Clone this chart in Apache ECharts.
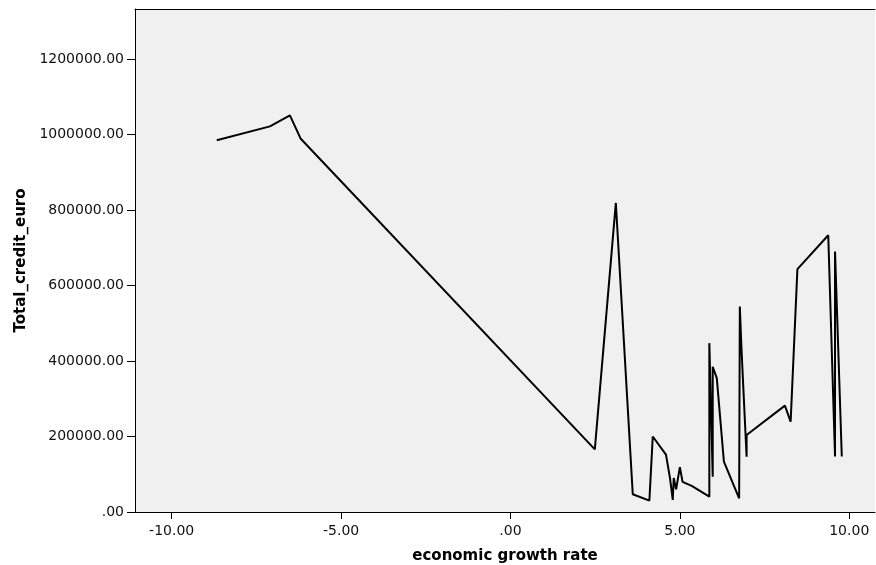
<!DOCTYPE html>
<html>
<head>
<meta charset="utf-8">
<script src="https://cdn.jsdelivr.net/npm/echarts@6/dist/echarts.min.js"></script>
<style>
html,body{margin:0;padding:0;background:#fff;}
#chart{width:876px;height:565px;}
</style>
</head>
<body>
<div id="chart"></div>
<script>
// economic growth rate (x) and Total_credit_euro (y), in drawing order
var growthRate = [-8.67, -7.10, -6.51, -6.19, 2.49, 3.11, 3.61, 4.10, 4.20, 4.59, 4.71, 4.79, 4.82, 4.89, 5.00, 5.08, 5.35, 5.87, 5.87, 5.97, 5.97, 6.09, 6.30, 6.75, 6.77, 6.82, 6.97, 6.97, 8.10, 8.27, 8.47, 9.38, 9.58, 9.58, 9.78];
var totalCredit = [985000, 1022000, 1051000, 989000, 166000, 819000, 47000, 30000, 200000, 152000, 89000, 32000, 90000, 60000, 119000, 80000, 69000, 40600, 447500, 93600, 385000, 354600, 133400, 36300, 544600, 430000, 146700, 204200, 282000, 239500, 643800, 733400, 147200, 690400, 147200];
var xTickValues = [-10, -5, 0, 5, 10];
var yTickValues = [0, 200000, 400000, 600000, 800000, 1000000, 1200000];

var xMin = -11.083, xMax = 10.76;
var yMin = 0, yMax = 1333000;

function fmt(v) {
  var s = Number(v).toFixed(2);
  if (s.indexOf('0.') === 0) s = s.slice(1);
  if (s.indexOf('-0.') === 0) s = '-' + s.slice(2);
  return s;
}

var points = growthRate.map(function (x, i) { return [x, totalCredit[i]]; });

var chart = echarts.init(document.getElementById('chart'), null, {renderer: 'canvas'});
chart.setOption({
  animation: false,
  backgroundColor: '#ffffff',
  grid: {
    left: 135, right: 1, top: 9, bottom: 53,
    containLabel: false,
    outerBoundsMode: 'none',
    show: true, backgroundColor: '#f0f0f0', borderWidth: 0
  },
  xAxis: [{
    type: 'value',
    min: xMin, max: xMax,
    name: 'economic growth rate',
    nameLocation: 'middle',
    nameGap: 37,
    nameTextStyle: {fontFamily: 'DejaVu Sans', fontWeight: 'bold', fontSize: 15, color: '#000'},
    axisLine: {show: true, onZero: false, lineStyle: {color: '#000', width: 1}},
    axisTick: {show: true, inside: false, length: 7, customValues: xTickValues, lineStyle: {color: '#000', width: 1}},
    axisLabel: {show: true, customValues: xTickValues, margin: 12, formatter: fmt,
      fontFamily: 'DejaVu Sans', fontSize: 14, color: '#111'},
    splitLine: {show: false}
  }, {
    type: 'value',
    position: 'top',
    min: xMin, max: xMax,
    axisLine: {show: true, onZero: false, lineStyle: {color: '#000', width: 1}},
    axisTick: {show: false},
    axisLabel: {show: false},
    splitLine: {show: false}
  }],
  yAxis: {
    type: 'value',
    min: yMin, max: yMax,
    name: 'Total_credit_euro',
    nameLocation: 'middle',
    nameGap: 106,
    nameRotate: 90,
    nameTextStyle: {fontFamily: 'DejaVu Sans', fontWeight: 'bold', fontSize: 15, color: '#000'},
    axisLine: {show: true, onZero: false, lineStyle: {color: '#000', width: 1}},
    axisTick: {show: true, inside: false, length: 8, customValues: yTickValues, lineStyle: {color: '#000', width: 1}},
    axisLabel: {show: true, customValues: yTickValues, margin: 11, formatter: fmt,
      fontFamily: 'DejaVu Sans', fontSize: 14, color: '#111'},
    splitLine: {show: false}
  },
  series: [{
    type: 'line',
    xAxisIndex: 0,
    data: points,
    symbol: 'none',
    lineStyle: {color: '#000', width: 2},
    silent: true
  }]
});
</script>
</body>
</html>
